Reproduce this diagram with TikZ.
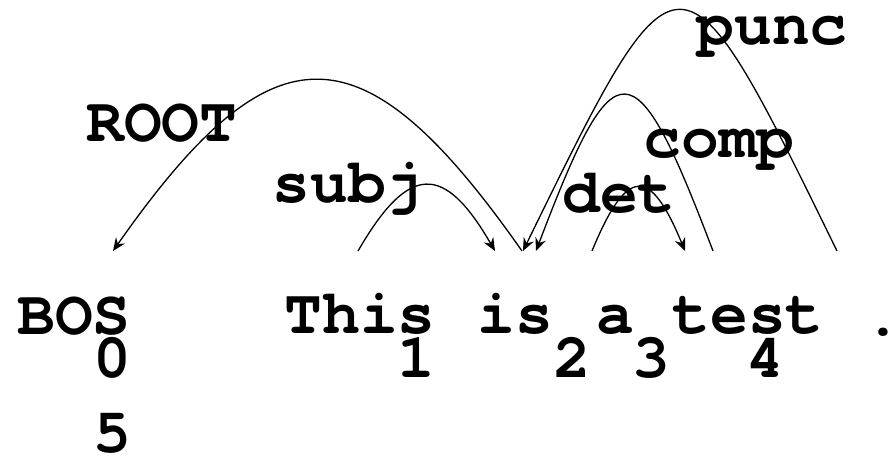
\documentclass[tikz,border=0pt]{standalone}
\usepackage{fontspec}
\setmonofont{TeX Gyre Cursor}
\usetikzlibrary{arrows.meta}

\begin{document}
\begin{tikzpicture}[
    x=0.5pt, y=-0.5pt,
    word/.style={inner sep=0pt, anchor=base, font=\fontsize{31.5}{31.5}\selectfont\ttfamily\bfseries},
    rel/.style={word},
    arc/.style={draw=black, line width=0.65pt},
    arrow/.style={arc, -{Stealth[length=6.5pt, width=5.5pt, inset=2.2pt]}}
]
    \useasboundingbox (0,0) rectangle (890,459);

    % Sentence tokens
    \node (bos)  at (74,335)  [word] {BOS};
    \node (this) at (360,334) [word] {This};
    \node (is)   at (515,334) [word] {is};
    \node (a)    at (615,334) [word] {a};
    \node (test) at (748,334) [word] {test};
    \node (dot)  at (883,336) [word] {.};

    % Token indices
    \node (i0) at (112,378) [word] {0};
    \node (i1) at (416,378) [word] {1};
    \node (i2) at (572,378) [word] {2};
    \node (i3) at (651,378) [word] {3};
    \node (i4) at (765,378) [word] {4};
    \node (i5) at (112,453) [word] {5};

    % Relation labels
    \node (lroot) at (162,142) [rel] {ROOT};
    \node (lsubj) at (348,203) [rel] {subj};
    \node (lpunc) at (772,45)  [rel] {punc};
    \node (lcomp) at (719,158) [rel] {comp};
    \node (ldet)  at (619,213) [rel] {det};

    % Arc end points
    \coordinate (root-head) at (522,251);
    \coordinate (root-dep)  at (113,251);
    \coordinate (subj-head) at (358,251);
    \coordinate (subj-dep)  at (495,251);
    \coordinate (det-head)  at (592,251);
    \coordinate (det-dep)   at (685,251);
    \coordinate (comp-head) at (713,251);
    \coordinate (comp-dep)  at (536,251);
    \coordinate (punc-head) at (837,251);
    \coordinate (punc-dep)  at (523,251);

    % Arcs
    \draw [arrow] (root-head) .. controls +(-160,-228) and +(160,-228) .. (root-dep);
    \draw [arrow] (subj-head) .. controls +(51,-88) and +(-51,-88) .. (subj-dep);
    \draw [arrow] (det-head) .. controls +(35,-85) and +(-35,-85) .. (det-dep);
    \draw [arrow] (comp-head) .. controls +(-79,-208) and +(79,-208) .. (comp-dep);
    \draw [arrow] (punc-head) .. controls +(-157,-321) and +(157,-321) .. (punc-dep);

\end{tikzpicture}
\end{document}
